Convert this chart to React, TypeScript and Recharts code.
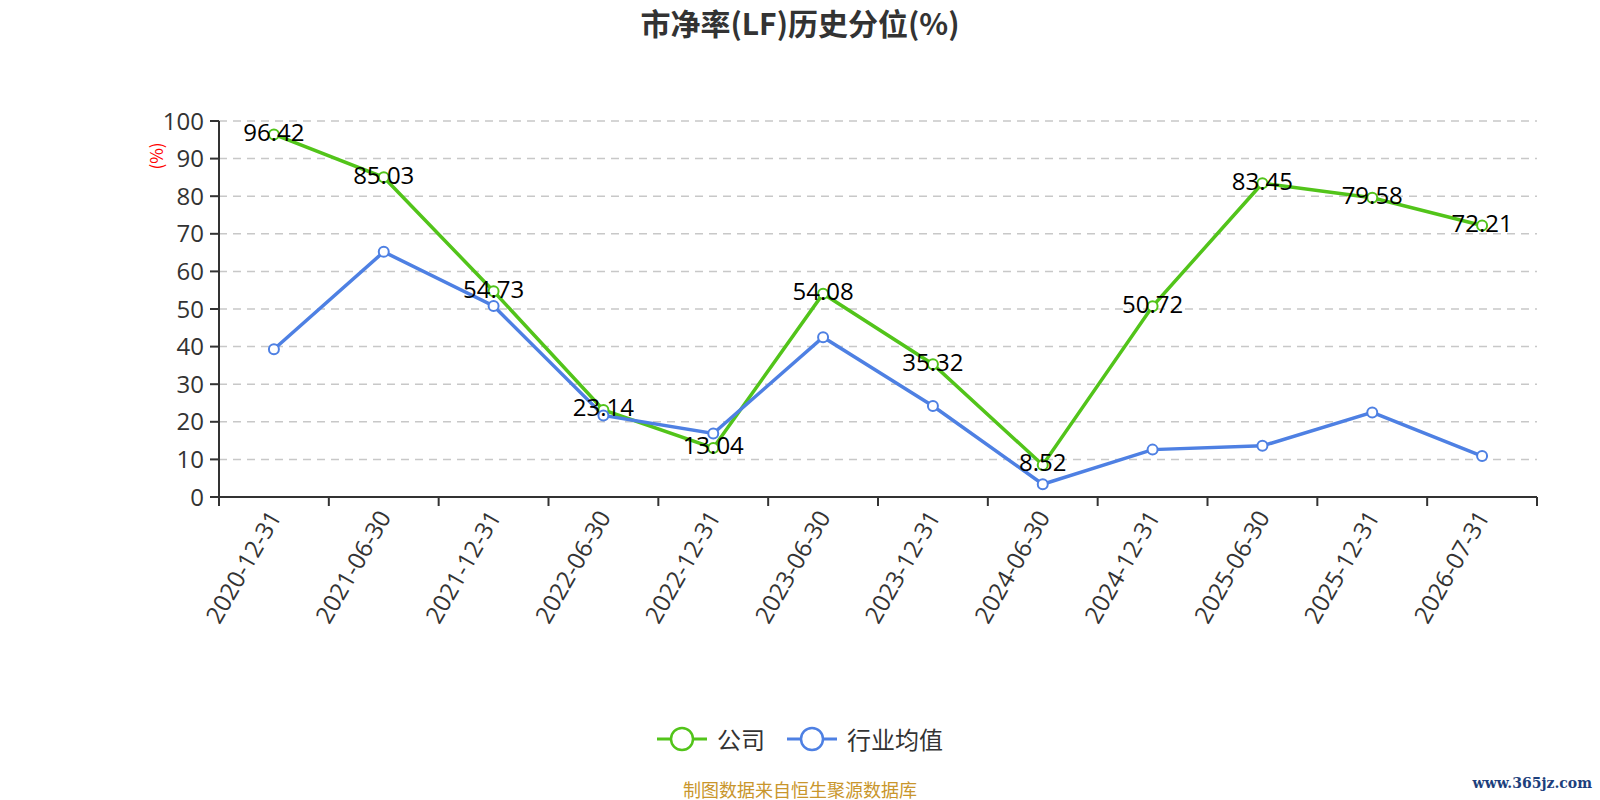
import React from "react";
import { CartesianGrid, LabelList, Line, LineChart, XAxis, YAxis } from "recharts";

// Report dates (one point per date)
const DATES = [
  "2020-12-31",
  "2021-06-30",
  "2021-12-31",
  "2022-06-30",
  "2022-12-31",
  "2023-06-30",
  "2023-12-31",
  "2024-06-30",
  "2024-12-31",
  "2025-06-30",
  "2025-12-31",
  "2026-07-31",
];
// 公司 — labelled values
const COMPANY = [96.42, 85.03, 54.73, 23.14, 13.04, 54.08, 35.32, 8.52, 50.72, 83.45, 79.58, 72.21];
// 行业均值
const INDUSTRY = [39.3, 65.2, 50.8, 21.7, 16.9, 42.5, 24.2, 3.4, 12.6, 13.6, 22.5, 10.9];
const Y_TICKS = [0, 10, 20, 30, 40, 50, 60, 70, 80, 90, 100];
const X_BOUNDS = DATES.map((_, i) => i).concat(DATES.length);

const GREEN = "#52c41a";
const BLUE = "#4e80e3";
const FONT = '"Open Sans", "Noto Sans CJK SC", sans-serif';
const CJK = '"Noto Sans CJK SC", sans-serif';

const W = 1600;
const H = 800;
const MARGIN = { top: 121, right: 63, bottom: 0, left: 0 };
const Y_AXIS_W = 219;
const X_AXIS_H = 303;
const BAND = (W - MARGIN.right - Y_AXIS_W) / DATES.length;

// each row sits in the middle of its band, ticks mark the band edges
const data = DATES.map((date, i) => ({
  pos: i + 0.5,
  date,
  company: COMPANY[i],
  industry: INDUSTRY[i],
}));

function DateTick(props: any) {
  const { x, y, payload } = props;
  const label = DATES[payload.value];
  if (!label) return null;
  const cx = x + BAND / 2;
  const cy = y + 4;
  return (
    <text
      x={cx}
      y={cy}
      textAnchor="end"
      dominantBaseline="central"
      transform={`rotate(-60, ${cx}, ${cy})`}
      fontSize={24}
      fontFamily={FONT}
      fill="#333"
    >
      {label}
    </text>
  );
}

function PointLabel(props: any) {
  const { x, y, value } = props;
  return (
    <text
      x={x}
      y={y - 3}
      textAnchor="middle"
      dominantBaseline="central"
      fontSize={24}
      fontFamily={FONT}
      fill="#000"
    >
      {value}
    </text>
  );
}

function LegendItem({ color, name, gap }: { color: string; name: string; gap: number }) {
  return (
    <div style={{ display: "flex", alignItems: "center", marginRight: gap }}>
      <svg width={50} height={26}>
        <line x1={0} y1={13} x2={50} y2={13} stroke={color} strokeWidth={3} />
        <circle cx={25} cy={13} r={11} fill="#fff" stroke={color} strokeWidth={2.5} />
      </svg>
      <span style={{ marginLeft: 10, fontSize: 24, color: "#333", fontFamily: CJK }}>{name}</span>
    </div>
  );
}

export default function App() {
  return (
    <div style={{ position: "absolute", left: 0, top: 0, width: W, height: H, background: "#fff" }}>
      <div
        style={{
          position: "absolute",
          top: 0,
          width: W,
          textAlign: "center",
          fontFamily: CJK,
          fontWeight: 700,
          fontSize: 30,
          color: "#333",
        }}
      >
        市净率(LF)历史分位(%)
      </div>

      <LineChart width={W} height={H} data={data} margin={MARGIN}>
        <CartesianGrid vertical={false} stroke="#c8c8c8" strokeDasharray="8 6" strokeWidth={1.5} />
        <XAxis
          dataKey="pos"
          type="number"
          domain={[0, DATES.length]}
          ticks={X_BOUNDS}
          interval={0}
          height={X_AXIS_H}
          tick={<DateTick />}
          tickSize={9}
          tickLine={{ stroke: "#333", strokeWidth: 2 }}
          axisLine={{ stroke: "#333", strokeWidth: 2 }}
        />
        <YAxis
          domain={[0, 100]}
          ticks={Y_TICKS}
          interval={0}
          width={Y_AXIS_W}
          tickSize={9}
          tickMargin={6}
          tick={{ fontSize: 24, fill: "#333", fontFamily: FONT }}
          tickLine={{ stroke: "#333", strokeWidth: 2 }}
          axisLine={{ stroke: "#333", strokeWidth: 2 }}
        />
        <Line
          dataKey="company"
          name="公司"
          type="linear"
          stroke={GREEN}
          strokeWidth={3.5}
          dot={{ r: 5, fill: "#fff", stroke: GREEN, strokeWidth: 2 }}
          isAnimationActive={false}
        >
          <LabelList dataKey="company" content={<PointLabel />} />
        </Line>
        <Line
          dataKey="industry"
          name="行业均值"
          type="linear"
          stroke={BLUE}
          strokeWidth={3.5}
          dot={{ r: 5, fill: "#fff", stroke: BLUE, strokeWidth: 2 }}
          isAnimationActive={false}
        />
      </LineChart>

      <div
        style={{
          position: "absolute",
          left: 155,
          top: 156,
          transform: "translate(-50%, -50%) rotate(-90deg)",
          color: "#ff0000",
          fontSize: 17,
          fontFamily: CJK,
        }}
      >
        (%)
      </div>

      <div
        style={{
          position: "absolute",
          top: 721,
          width: W,
          display: "flex",
          justifyContent: "center",
        }}
      >
        <LegendItem color={GREEN} name="公司" gap={22} />
        <LegendItem color={BLUE} name="行业均值" gap={0} />
      </div>

      <div
        style={{
          position: "absolute",
          top: 776,
          width: W,
          textAlign: "center",
          fontSize: 18,
          color: "#c9962c",
          fontFamily: CJK,
        }}
      >
        制图数据来自恒生聚源数据库
      </div>
      <div
        style={{
          position: "absolute",
          right: 8,
          top: 775,
          fontSize: 14,
          fontWeight: 700,
          color: "#1d3f7c",
          fontFamily: '"DejaVu Serif", serif',
        }}
      >
        www.365jz.com
      </div>
    </div>
  );
}
